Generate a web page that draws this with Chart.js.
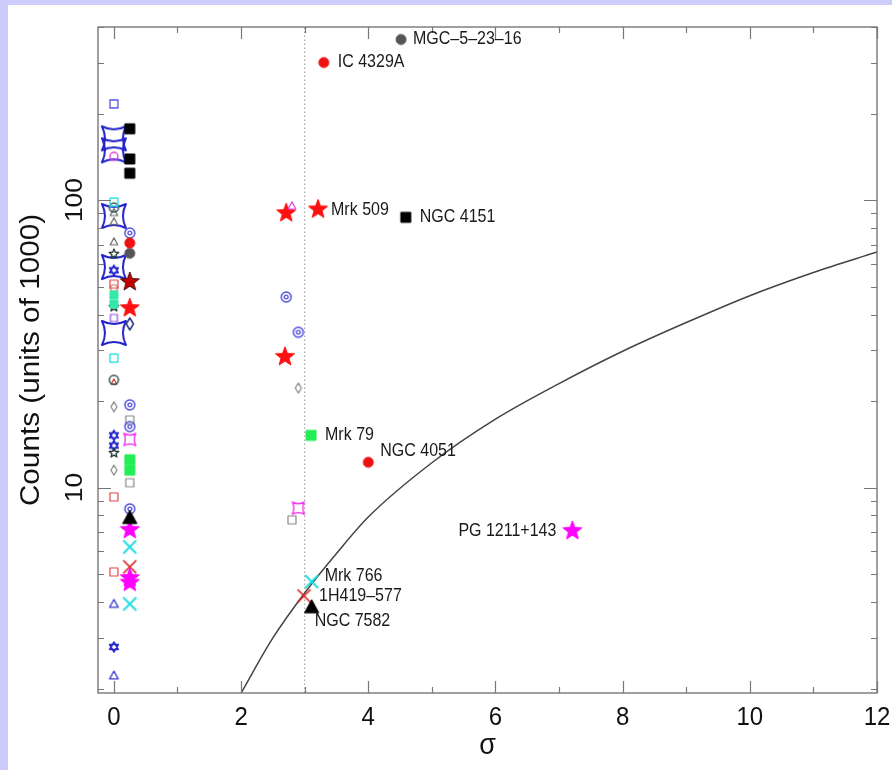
<!DOCTYPE html>
<html lang="en">
<head>
<meta charset="UTF-8">
<title>Counts vs sigma</title>
<script src="https://cdn.jsdelivr.net/npm/chart.js@4.4.0/dist/chart.umd.min.js"></script>
<style>
  body { margin: 0; background: #cdcdfc; width: 892px; height: 770px; overflow: hidden; }
  #box { position: absolute; left: 8px; top: 5px; width: 884px; height: 765px; background: #fff; }
  #chart { filter: blur(0.4px); }
</style>
</head>
<body>
<div id="box"><canvas id="chart" width="884" height="765"></canvas></div>
<script>
// axis ranges and tick labels
var xMin = -0.25, xMax = 12;
var yMin = 1.93, yMax = 400;
var xTickLabels = [0, 2, 4, 6, 8, 10, 12];
var yTickLabels = [10, 100];
var sigmaCut = 3; // dotted vertical line

// solid curve
var curveSigma  = [2, 2.5, 3, 3.5, 4, 5, 6, 7, 8, 9, 10, 11, 12];
var curveCounts = [1.93, 3.0, 4.3, 5.9, 7.9, 12.2, 17.3, 23.0, 29.8, 37.5, 46.5, 56, 66];

// point series, [sigma, counts]
var blueSquareOpen   = [[0, 216]];
var blueAstroid      = [[0, 164], [0, 149], [0, 88], [0, 58.5], [0, 34.5]];
var magentaCircleOpen = [[0, 142]];
var blackSquare      = [[0.25, 177], [0.25, 139], [0.25, 124], [4.59, 87.1]];
var cyanSquareOpen   = [[0, 98.4], [0, 28.2]];
var darkCircleOpen   = [[0, 94.2], [0, 23.7]];
var grayTriangleOpen = [[0, 90.5], [0, 84.1], [0, 71.6]];
var blueCircleDot    = [[0.25, 76.8], [2.71, 46.0], [2.90, 34.7], [0.25, 19.4], [0.25, 16.3], [0.25, 8.43]];
var redCircle        = [[0.25, 70.9], [3.30, 301], [4.0, 12.25]];
var grayCircle       = [[0.25, 65.3], [4.515, 362]];
var darkStarOpen     = [[0, 65], [0, 42.5], [0, 13.2]];
var blueHexagram     = [[0, 57], [0, 15.2], [0, 14.0], [0, 2.79]];
var darkRedStar      = [[0.25, 51.9]];
var redStar          = [[0.25, 42.1], [2.71, 90.1], [3.21, 92.8], [2.69, 28.5]];
var redSquareOpen    = [[0, 51], [0, 9.28], [0, 5.09]];
var tanCircleOpen    = [[0, 49.4]];
var lightGreenSquare = [[0, 46.8], [0, 43.5]];
var greenSquare      = [[0.25, 12.5], [0.25, 11.5], [3.10, 15.2]];
var magentaTriOpen   = [[2.80, 95.5]];
var violetSquareOpen = [[0, 38.9]];
var navyDiamondOpen  = [[0.25, 37.1]];
var grayDiamondOpen  = [[0, 19.1], [0, 11.5], [2.90, 22.2]];
var graySquareOpen   = [[0.25, 17.2], [0.25, 10.4], [2.80, 7.72]];
var magentaAstroid   = [[0.25, 14.7], [2.90, 8.48]];
var redTriangleOpen  = [[0, 23.3]];
var blackTriangle    = [[0.25, 7.85], [3.11, 3.84]];
var magentaStar      = [[0.25, 7.13], [0.25, 4.85], [0.25, 4.67], [7.21, 7.07]];
var cyanX            = [[0.25, 6.22], [0.25, 3.94], [3.11, 4.71]];
var redX             = [[0.25, 5.30], [2.99, 4.20]];
var blueTriangleOpen = [[0, 3.94], [0, 2.22]];

// named objects
var labelNames = ['MGC\u20135\u201323\u201316', 'IC 4329A', 'Mrk 509', 'NGC 4151', 'Mrk 79',
                  'NGC 4051', 'PG 1211+143', 'Mrk 766', '1H419\u2013577', 'NGC 7582'];
var labelPoints = [[4.515, 362], [3.30, 301], [3.21, 92.8], [4.59, 87.1], [3.10, 15.2],
                   [4.0, 12.25], [7.21, 7.07], [3.11, 4.71], [2.99, 4.20], [3.11, 3.84]];
// pixel offsets of each label from its point
var labelOffsets = [[12, 0, 'left'], [14, 0, 'left'], [13, 1, 'left'], [14, 0, 'left'], [14, 0, 'left'],
                    [12, -11, 'left'], [-16, 0, 'right'], [13, -5, 'left'], [15, 0, 'left'], [3, 14, 'left']];

var FONT = '"Liberation Sans", Arial, sans-serif';

// draw one marker into a small canvas, used as pointStyle
function marker(shape, size, stroke, fill, lw) {
    var pad = Math.ceil(lw) + 2;
    var c = document.createElement('canvas');
    c.width = c.height = size + pad * 2;
    var g = c.getContext('2d');
    var r = size / 2;
    g.translate(c.width / 2, c.height / 2);
    g.lineWidth = lw;
    g.strokeStyle = stroke;
    g.fillStyle = fill || stroke;
    g.lineJoin = 'round';
    g.beginPath();
    if (shape == 'square') {
        g.rect(-r, -r, size, size);
    } else if (shape == 'circle') {
        g.arc(0, 0, r, 0, Math.PI * 2);
    } else if (shape == 'circleDot') {
        g.arc(0, 0, r, 0, Math.PI * 2);
        g.moveTo(r * 0.38, 0);
        g.arc(0, 0, r * 0.38, 0, Math.PI * 2);
    } else if (shape == 'triangle') {
        g.moveTo(0, -r);
        g.lineTo(r * 0.95, r * 0.75);
        g.lineTo(-r * 0.95, r * 0.75);
        g.closePath();
    } else if (shape == 'diamond') {
        g.moveTo(0, -r);
        g.lineTo(r * 0.6, 0);
        g.lineTo(0, r);
        g.lineTo(-r * 0.6, 0);
        g.closePath();
    } else if (shape == 'star') {
        for (var i = 0; i < 10; i++) {
            var ang = -Math.PI / 2 + i * Math.PI / 5;
            var rr = i % 2 ? r * 0.42 : r;
            g.lineTo(rr * Math.cos(ang), rr * Math.sin(ang));
        }
        g.closePath();
    } else if (shape == 'astroid') {
        var k = r * 0.5;
        g.moveTo(-r, -r);
        g.quadraticCurveTo(0, -k, r, -r);
        g.quadraticCurveTo(k, 0, r, r);
        g.quadraticCurveTo(0, k, -r, r);
        g.quadraticCurveTo(-k, 0, -r, -r);
        g.closePath();
    } else if (shape == 'hexagram') {
        g.moveTo(0, -r);
        g.lineTo(r * 0.87, r * 0.5);
        g.lineTo(-r * 0.87, r * 0.5);
        g.closePath();
        g.moveTo(0, r);
        g.lineTo(r * 0.87, -r * 0.5);
        g.lineTo(-r * 0.87, -r * 0.5);
        g.closePath();
    } else if (shape == 'x') {
        g.moveTo(-r, -r);
        g.lineTo(r, r);
        g.moveTo(r, -r);
        g.lineTo(-r, r);
    }
    if (fill) g.fill();
    g.stroke();
    return c;
}

function toXY(arr) {
    return arr.map(function (p) { return { x: p[0], y: p[1] }; });
}

function pts(data, style) {
    return { type: 'scatter', data: toXY(data), pointStyle: style, pointRadius: 3 };
}

var curveData = curveSigma.map(function (s, i) { return { x: s, y: curveCounts[i] }; });

// first entry is drawn on top
var datasets = [
    pts(magentaTriOpen, marker('triangle', 8, '#e040e0', null, 1.2)),
    pts(blackTriangle, marker('triangle', 15, '#000', '#000', 1)),
    pts(magentaStar, marker('star', 20, '#ff00ff', '#ff00ff', 1)),
    pts(cyanX, marker('x', 13, '#22dddd', null, 2)),
    pts(redX, marker('x', 13, '#dd2222', null, 1.7)),
    pts(redStar, marker('star', 20, '#ff1010', '#ff1010', 1)),
    pts(darkRedStar, marker('star', 20, '#551111', '#c00000', 1)),
    pts(blackSquare, marker('square', 10, '#000', '#000', 1)),
    pts(redCircle, marker('circle', 10, '#ee1111', '#ee1111', 1)),
    pts(grayCircle, marker('circle', 10, '#555', '#555', 1)),
    pts(greenSquare, marker('square', 10, '#22ee55', '#22ee55', 1)),
    pts(lightGreenSquare, marker('square', 8, '#33e8a8', '#33e8a8', 1)),
    pts(blueSquareOpen, marker('square', 8, '#5050e0', null, 1.3)),
    pts(magentaCircleOpen, marker('circle', 8, '#e040e0', null, 1.4)),
    pts(cyanSquareOpen, marker('square', 8, '#33e0e0', null, 1.4)),
    pts(darkCircleOpen, marker('circle', 9, '#335050', null, 1.5)),
    pts(redTriangleOpen, marker('triangle', 6, '#dd3333', null, 1.2)),
    pts(grayTriangleOpen, marker('triangle', 8, '#666', null, 1.2)),
    pts(blueCircleDot, marker('circleDot', 10, '#4a4ad8', null, 1.4)),
    pts(darkStarOpen, marker('star', 10, '#223a30', null, 1.3)),
    pts(blueHexagram, marker('hexagram', 10, '#2a2acc', null, 1.5)),
    pts(redSquareOpen, marker('square', 8, '#dd4444', null, 1.2)),
    pts(tanCircleOpen, marker('circle', 7, '#cc7755', null, 1.2)),
    pts(violetSquareOpen, marker('square', 7, '#9050e0', null, 1.2)),
    pts(navyDiamondOpen, marker('diamond', 12, '#223377', null, 1.5)),
    pts(grayDiamondOpen, marker('diamond', 10, '#888', null, 1.3)),
    pts(graySquareOpen, marker('square', 8, '#888', null, 1.2)),
    pts(magentaAstroid, marker('astroid', 12, '#ee33ee', null, 1.4)),
    pts(blueTriangleOpen, marker('triangle', 9, '#3838d0', null, 1.3)),
    pts(blueAstroid, marker('astroid', 24, '#2222cc', null, 2)),
    {
        type: 'line', data: curveData, borderColor: '#444', borderWidth: 1.5,
        pointRadius: 0, cubicInterpolationMode: 'monotone', fill: false
    },
    {
        type: 'line', data: [{ x: sigmaCut, y: yMin }, { x: sigmaCut, y: yMax }],
        borderColor: '#999', borderWidth: 1, borderDash: [1.5, 2.5], pointRadius: 0, fill: false
    }
];

function stretchText(ctx, s, x, y, align, size, rot) {
    ctx.save();
    ctx.translate(x, y);
    if (rot) ctx.rotate(rot);
    if (rot) ctx.scale(1.1, 1); else ctx.scale(1, 1.1);
    ctx.font = size + 'px ' + FONT;
    ctx.textAlign = align;
    ctx.textBaseline = 'alphabetic';
    ctx.fillText(s, 0, 0);
    ctx.restore();
}

// frame, inward ticks, tick labels, axis titles and point names
var decorations = {
    id: 'decorations',
    afterDraw: function (chart) {
        var ctx = chart.ctx, a = chart.chartArea;
        var sx = chart.scales.x, sy = chart.scales.y;
        ctx.save();
        ctx.strokeStyle = '#777';
        ctx.lineWidth = 1.4;
        ctx.strokeRect(a.left, a.top, a.right - a.left, a.bottom - a.top);
        ctx.lineWidth = 1.2;
        ctx.beginPath();
        for (var v = 0; v <= xMax; v++) {
            var px = Math.round(sx.getPixelForValue(v)) + 0.5;
            var len = v % 2 == 0 ? 12 : 6;
            ctx.moveTo(px, a.bottom); ctx.lineTo(px, a.bottom - len);
            ctx.moveTo(px, a.top); ctx.lineTo(px, a.top + len);
        }
        for (var dec = 1; dec <= 100; dec *= 10) {
            for (var m = 1; m <= 9; m++) {
                var val = m * dec;
                if (val < yMin || val > yMax) continue;
                var py = Math.round(sy.getPixelForValue(val)) + 0.5;
                var l = m == 1 ? 13 : 6;
                ctx.moveTo(a.left, py); ctx.lineTo(a.left + l, py);
                ctx.moveTo(a.right, py); ctx.lineTo(a.right - l, py);
            }
        }
        ctx.stroke();

        ctx.fillStyle = '#111';
        xTickLabels.forEach(function (t) {
            stretchText(ctx, String(t), sx.getPixelForValue(t), a.bottom + 32, 'center', 24);
        });
        yTickLabels.forEach(function (t) {
            stretchText(ctx, String(t), a.left - 16, sy.getPixelForValue(t), 'center', 24, -Math.PI / 2);
        });
        stretchText(ctx, '\u03c3', (a.left + a.right) / 2, a.bottom + 61, 'center', 27);
        stretchText(ctx, 'Counts (units of 1000)', 31, (a.top + a.bottom) / 2, 'center', 27, -Math.PI / 2);

        labelNames.forEach(function (name, i) {
            var p = labelPoints[i], o = labelOffsets[i];
            var x = sx.getPixelForValue(p[0]) + o[0];
            var y = sy.getPixelForValue(p[1]) + o[1];
            ctx.save();
            ctx.translate(x, y);
            ctx.scale(1, 1.1);
            ctx.font = '16px ' + FONT;
            ctx.textAlign = o[2];
            ctx.textBaseline = 'middle';
            ctx.fillStyle = '#1a1a1a';
            ctx.fillText(name, 0, 0);
            ctx.restore();
        });
        ctx.restore();
    }
};

new Chart(document.getElementById('chart').getContext('2d'), {
    type: 'scatter',
    data: { datasets: datasets },
    options: {
        responsive: false,
        animation: false,
        events: [],
        layout: { padding: { left: 90, top: 22, right: 15, bottom: 77 } },
        plugins: { legend: { display: false }, tooltip: { enabled: false } },
        scales: {
            x: { type: 'linear', min: xMin, max: xMax, display: false },
            y: { type: 'logarithmic', min: yMin, max: yMax, display: false }
        }
    },
    plugins: [decorations]
});
</script>
</body>
</html>
